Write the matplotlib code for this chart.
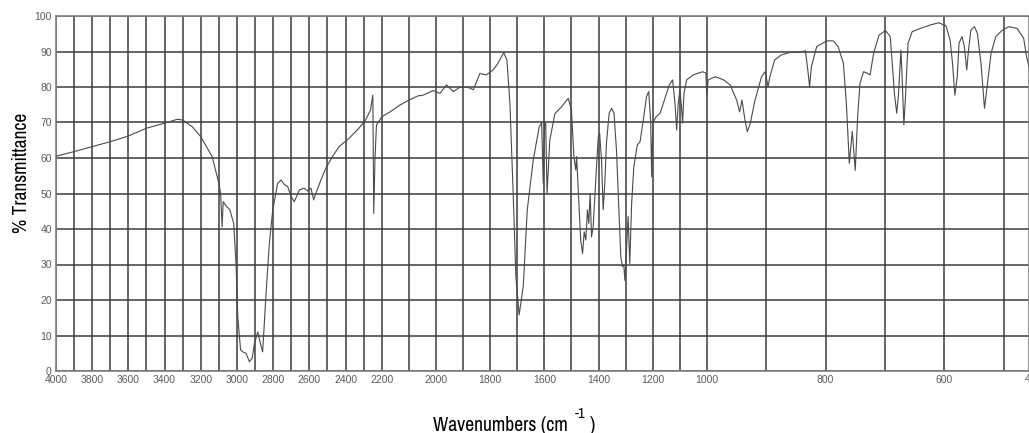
import numpy as np
import matplotlib
matplotlib.use("Agg")
import matplotlib.pyplot as plt
from matplotlib import font_manager
from matplotlib.font_manager import FontProperties

# ---------------- data ----------------
wavenumber = [4000, 3900, 3800, 3700, 3600, 3500, 3400, 3330, 3300, 3247, 3200, 3137,
              3100, 3090, 3082, 3076, 3060, 3040, 3018, 3005, 2995, 2980, 2968, 2950,
              2931, 2916, 2903, 2885, 2873, 2858, 2839, 2821, 2802, 2775, 2756, 2738,
              2720, 2700, 2683, 2655, 2628, 2610, 2591, 2576, 2564, 2536, 2509, 2472,
              2436, 2381, 2326, 2289, 2262, 2249, 2244, 2237, 2229, 2200, 2169, 2133,
              2100, 2066, 2047, 2010, 1985, 1961, 1936, 1912, 1881, 1862, 1838, 1814,
              1789, 1771, 1750, 1738, 1727, 1715, 1705, 1693, 1678, 1663, 1641, 1619,
              1610, 1604, 1599, 1595, 1590, 1580, 1561, 1537, 1512, 1500, 1491, 1484,
              1481, 1475, 1466, 1459, 1453, 1447, 1441, 1436, 1431, 1426, 1420, 1411,
              1401, 1396, 1389, 1383, 1377, 1371, 1361, 1352, 1343, 1334, 1325, 1318,
              1312, 1307, 1303, 1297, 1291, 1285, 1278, 1270, 1257, 1247, 1235, 1223,
              1215, 1208, 1204, 1200, 1188, 1173, 1155, 1139, 1127, 1118, 1112, 1106,
              1100, 1094, 1090, 1085, 1075, 1051, 1040, 1016, 1004, 1001, 998, 986,
              972, 961, 950, 945, 941, 936, 932, 927, 919, 908, 902, 897,
              894, 886, 875, 861, 841, 834, 830, 827, 824, 815, 798, 787,
              779, 770, 765, 760, 755, 750, 746, 742, 736, 730, 725, 719,
              710, 699, 691, 688, 684, 680, 677, 673, 671, 668, 665, 661,
              654, 640, 623, 609, 597, 590, 586, 582, 578, 575, 570, 566,
              562, 559, 555, 549, 544, 538, 532, 527, 521, 513, 502, 491,
              477, 466, 461, 457]
transmittance = [60.5, 61.8, 63.2, 64.6, 66.2, 68.4, 69.8, 70.9, 70.7, 68.8, 66.0, 60.4,
                 52.9, 50.0, 40.6, 47.7, 46.5, 45.5, 41.6, 30.0, 15.0, 6.0, 5.4, 5.0,
                 2.6, 3.6, 7.8, 11.0, 8.3, 5.4, 21.9, 36.0, 45.4, 52.9, 53.8, 52.5,
                 52.0, 49.1, 47.7, 51.0, 51.5, 50.7, 51.5, 48.2, 50.0, 53.8, 57.1, 60.4,
                 63.2, 65.5, 68.4, 70.7, 73.5, 77.7, 44.4, 60.0, 69.3, 71.6, 73.0, 74.9,
                 76.3, 77.5, 77.7, 79.0, 78.2, 80.6, 78.7, 79.9, 79.9, 79.2, 83.8, 83.4,
                 84.8, 86.7, 89.7, 87.6, 75.4, 50.0, 26.6, 15.8, 23.7, 45.4, 59.4, 68.8,
                 69.9, 52.9, 69.9, 69.7, 50.0, 65.0, 72.5, 74.4, 76.8, 73.5, 60.4, 56.6,
                 60.4, 51.0, 36.9, 33.1, 39.2, 36.9, 45.4, 41.6, 50.0, 37.8, 40.6, 52.9,
                 66.0, 66.9, 59.4, 45.4, 52.9, 64.1, 72.6, 74.0, 72.6, 62.3, 45.4, 32.2,
                 29.4, 30.0, 25.5, 34.1, 43.5, 30.3, 47.2, 57.5, 63.7, 64.6, 70.7, 77.3,
                 78.7, 70.7, 54.7, 69.8, 71.6, 72.6, 76.8, 80.6, 82.0, 75.4, 67.9, 75.4,
                 79.2, 74.4, 69.8, 78.2, 82.0, 83.4, 83.7, 84.3, 83.9, 77.7, 82.0, 82.9,
                 82.0, 80.6, 76.3, 73.0, 76.3, 70.7, 67.4, 69.8, 76.3, 82.9, 84.3, 80.1,
                 82.9, 87.6, 89.0, 89.7, 89.9, 90.2, 84.8, 80.1, 85.7, 91.4, 93.0, 93.0,
                 91.4, 86.7, 75.4, 58.5, 67.5, 56.5, 71.6, 81.0, 84.3, 83.9, 83.4, 89.5,
                 94.6, 95.9, 94.2, 87.6, 78.2, 72.6, 78.2, 90.4, 82.9, 69.3, 78.2, 92.3,
                 95.6, 96.5, 97.5, 98.1, 97.2, 93.2, 86.7, 77.7, 82.9, 92.3, 94.2, 91.4,
                 84.8, 90.4, 96.0, 97.0, 95.1, 86.7, 74.0, 81.0, 89.5, 94.2, 96.0, 97.0,
                 96.5, 93.7, 88.5, 85.7]

x_tick_labels = [4000, 3800, 3600, 3400, 3200, 3000, 2800, 2600, 2400, 2200, 2000,
                 1800, 1600, 1400, 1200, 1000, 800, 600]
x_grid = list(range(4000, 400, -100))
y_ticks = [0, 10, 20, 30, 40, 50, 60, 70, 80, 90, 100]

# ---------------- fonts: look for a narrow / condensed sans ----------------
def find_condensed():
    tl = font_manager.fontManager.ttflist
    for f in tl:
        if 'Narrow' in f.name and f.style == 'normal' and f.weight in (400, 'normal', 'regular'):
            return f.fname
    for f in tl:
        if (f.stretch in ('condensed', 'semi-condensed', 'extra-condensed', 'ultra-condensed')
                and 'Mono' not in f.name and 'Serif' not in f.name
                and f.style == 'normal' and f.weight in (400, 'normal', 'regular')):
            return f.fname
    return None

cond_path = find_condensed()
def label_font(size):
    if cond_path:
        return FontProperties(fname=cond_path, size=size)
    return FontProperties(family='Liberation Sans', size=size)

plt.rcParams['font.family'] = ['Liberation Sans', 'DejaVu Sans']

# ---------------- piecewise-linear IR axis ----------------
BP_WN = np.array([0.0, 400.0, 1000.0, 2200.0, 4000.0, 6000.0])
BP_POS = -np.array([1300.0, 1062.8, 707.0, 381.7, 56.0, -307.0])

def fwd(x):
    return np.interp(x, BP_WN, BP_POS)

def inv(y):
    return np.interp(y, BP_POS, BP_WN)

W, H = 1029, 433
fig = plt.figure(figsize=(W / 100, H / 100), dpi=100)
ax = fig.add_axes([56 / W, 1 - 371 / H, 1 - 56 / W, (371 - 16) / H])
ax.set_xscale('function', functions=(fwd, inv))

ax.plot(wavenumber, transmittance, color='#4a4a4a', lw=0.8, zorder=3)

ax.set_xlim(4000, 457)
ax.set_ylim(0, 100)
ax.set_xticks(x_tick_labels)
ax.set_xticklabels([str(v) for v in x_tick_labels])
ax.set_xticks([g for g in x_grid if g not in x_tick_labels], minor=True)
ax.set_yticks(y_ticks)
ax.set_yticklabels([str(v) for v in y_ticks])
ax.grid(True, which='both', color='#3c3c3c', lw=1.1, zorder=1)
ax.tick_params(which='both', length=0, labelsize=7.5, labelcolor='#5a5a5a', pad=3)
for s in ax.spines.values():
    s.set_color('#808080')
    s.set_linewidth(1.2)

# partially visible 400 label at the cropped right edge
fig.text(1025 / W, 1 - 379 / H, '400', fontsize=7.5, color='#5a5a5a',
         ha='left', va='center')

# ---- axis titles, sized to the reference's extents ----
renderer = fig.canvas.get_renderer()

ylab = fig.text(22 / W, 1 - 173 / H, '% Transmittance', rotation=90,
                fontproperties=label_font(14), ha='center', va='center', color='black')
ext = ylab.get_window_extent(renderer)
ylab.set_fontproperties(label_font(14 * 120.0 / ext.height))

x_left = 433
xmain = fig.text(x_left / W, 1 - 431 / H, 'Wavenumbers (cm', fontproperties=label_font(14),
                 ha='left', va='baseline', color='black')
ext = xmain.get_window_extent(renderer)
size = 14 * 135.0 / ext.width
xmain.set_fontproperties(label_font(size))
ext = xmain.get_window_extent(renderer)
xsup = fig.text((ext.x1 + 7) / W, 1 - 418 / H, '-1', fontproperties=label_font(size * 0.75),
                ha='left', va='baseline', color='black')
ext2 = xsup.get_window_extent(renderer)
fig.text((ext2.x1 + 4) / W, 1 - 431 / H, ')', fontproperties=label_font(size),
         ha='left', va='baseline', color='black')

fig.savefig('out.png', dpi=100)
